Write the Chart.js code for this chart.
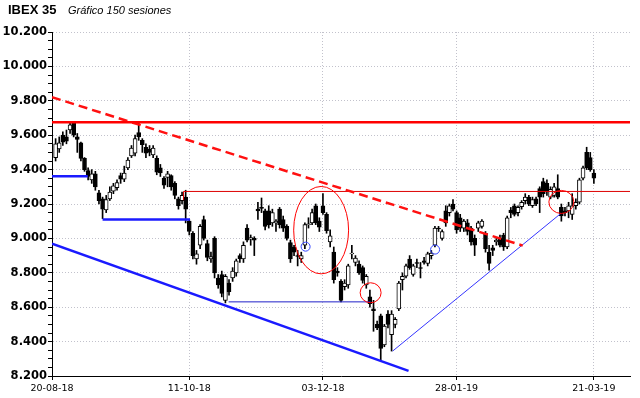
<!DOCTYPE html>
<html>
<head>
<meta charset="utf-8">
<script src="https://cdn.jsdelivr.net/npm/chart.js@4.4.1/dist/chart.umd.min.js"></script>
<style>
  html, body { margin: 0; padding: 0; background: #fff; }
  #wrap { position: relative; width: 640px; height: 398px; }
  #title { position: absolute; left: 8px; top: 2px; font: bold 13px "Liberation Sans", Arial, sans-serif; color: #000; }
  #subtitle { position: absolute; left: 68px; top: 4px; font: italic 11px "Liberation Sans", Arial, sans-serif; color: #000; }
</style>
</head>
<body>
<div id="wrap">
  <canvas id="chart" width="640" height="398"></canvas>
  <div id="title">IBEX 35</div>
  <div id="subtitle">Gráfico 150 sesiones</div>
</div>
<script>
// date ticks (session number -> label)
const dateLabels = ['20-08-18', '11-10-18', '03-12-18', '28-01-19', '21-03-19'];
const datePos = [0, 38, 75, 112, 150];

// daily candles, sessions 1..150
const opens = [
  9470, 9520, 9600, 9590, 9630, 9670, 9590, 9555, 9465, 9395,
  9340, 9375, 9265, 9230, 9165, 9230, 9275, 9295, 9365, 9345,
  9410, 9480, 9495, 9615, 9570, 9530, 9520, 9485, 9465, 9410,
  9350, 9355, 9365, 9320, 9230, 9220, 9240, 9100, 9030, 8880,
  8960, 9110, 8970, 8880, 9000, 8770, 8790, 8640, 8740, 8770,
  8800, 8900, 8880, 9060, 8995, 9000, 9170, 9180, 9160, 9160,
  9090, 9090, 9170, 9110, 9070, 8975, 8950, 8900, 8880, 8960,
  9080, 9090, 9190, 9100, 9190, 9140, 8980, 8920, 8810, 8750,
  8720, 8730, 8910, 8860, 8850, 8830, 8730, 8660, 8590, 8500,
  8550, 8380, 8560, 8440, 8500, 8590, 8760, 8780, 8880, 8790,
  8860, 8830, 8870, 8855, 8900, 8960, 9060, 9000, 9160, 9150,
  9200, 9150, 9120, 9060, 9090, 9060, 9000, 9060, 9070, 9030,
  8920, 8945, 8980, 9000, 9020, 8950, 9165, 9190, 9150, 9185,
  9220, 9240, 9190, 9230, 9290, 9330, 9320, 9240, 9250, 9290,
  9180, 9160, 9160, 9140, 9190, 9210, 9350, 9500, 9470, 9380
];
const highs = [
  9580, 9590, 9620, 9630, 9675, 9680, 9610, 9560, 9470, 9410,
  9400, 9390, 9280, 9240, 9250, 9300, 9320, 9340, 9380, 9420,
  9470, 9540, 9600, 9680, 9580, 9550, 9540, 9540, 9480, 9430,
  9360, 9390, 9370, 9330, 9240, 9270, 9280, 9110, 9040, 8930,
  9080, 9130, 8990, 8920, 9010, 8790, 8810, 8790, 8760, 8830,
  8880, 8910, 8980, 9080, 9020, 9010, 9210, 9235, 9170, 9190,
  9170, 9110, 9180, 9130, 9080, 8990, 8960, 8930, 8920, 9090,
  9120, 9170, 9200, 9120, 9260, 9150, 9050, 8950, 8830, 8760,
  8760, 8850, 8960, 8900, 8870, 8840, 8790, 8700, 8640, 8520,
  8560, 8500, 8580, 8580, 8540, 8750, 8800, 8850, 8900, 8850,
  8880, 8860, 8890, 8920, 8930, 9070, 9070, 9050, 9190, 9200,
  9225, 9160, 9140, 9110, 9110, 9070, 9020, 9100, 9110, 9040,
  8960, 8960, 9000, 9020, 9030, 9130, 9180, 9200, 9190, 9220,
  9260, 9250, 9240, 9240, 9300, 9350, 9340, 9300, 9320, 9370,
  9200, 9180, 9210, 9260, 9230, 9350, 9420, 9530, 9500, 9400
];
const lows = [
  9450, 9500, 9540, 9550, 9610, 9590, 9500, 9450, 9390, 9340,
  9320, 9280, 9200, 9115, 9150, 9220, 9260, 9280, 9320, 9330,
  9400, 9470, 9480, 9570, 9500, 9470, 9480, 9470, 9370, 9360,
  9290, 9300, 9280, 9230, 9170, 9200, 9090, 9020, 8880, 8850,
  8940, 8990, 8870, 8860, 8770, 8710, 8660, 8625, 8670, 8750,
  8780, 8860, 8860, 8980, 8960, 8900, 9110, 9150, 9050, 9060,
  9070, 9040, 9060, 9040, 8990, 8860, 8900, 8840, 8860, 8940,
  9060, 9080, 9080, 9040, 9140, 9030, 8950, 8740, 8780, 8630,
  8700, 8710, 8880, 8840, 8790, 8740, 8710, 8600, 8460, 8470,
  8290, 8370, 8480, 8345, 8480, 8580, 8700, 8770, 8820, 8780,
  8830, 8770, 8850, 8840, 8880, 8950, 9040, 8990, 9070, 9130,
  9160, 9030, 9040, 9040, 9020, 8960, 8900, 9040, 9060, 8920,
  8815, 8900, 8960, 8950, 8930, 8940, 9120, 9130, 9130, 9170,
  9200, 9190, 9180, 9190, 9150, 9240, 9250, 9230, 9240, 9230,
  9100, 9130, 9120, 9110, 9170, 9200, 9340, 9400, 9390, 9320
];
const closes = [
  9550, 9555, 9560, 9565, 9660, 9600, 9575, 9465, 9400, 9360,
  9375, 9300, 9220, 9170, 9225, 9270, 9305, 9325, 9345, 9380,
  9455, 9525, 9580, 9590, 9545, 9495, 9500, 9525, 9385, 9380,
  9310, 9375, 9300, 9250, 9190, 9250, 9170, 9040, 8900, 8910,
  9070, 9000, 8890, 8895, 8800, 8730, 8680, 8780, 8690, 8810,
  8870, 8880, 8960, 8990, 9005, 8990, 9160, 9175, 9070, 9080,
  9150, 9100, 9080, 9060, 9000, 8880, 8920, 8895, 8900, 9080,
  9085, 9150, 9090, 9065, 9150, 9045, 9015, 8760, 8800, 8640,
  8740, 8840, 8915, 8885, 8800, 8755, 8780, 8620, 8580, 8480,
  8360, 8490, 8500, 8560, 8530, 8740, 8780, 8840, 8830, 8840,
  8855, 8825, 8860, 8910, 8915, 9060, 9055, 9040, 9090, 9190,
  9170, 9050, 9060, 9100, 9040, 8980, 8960, 9090, 9100, 8940,
  8855, 8930, 8990, 8960, 8950, 9120, 9150, 9140, 9180, 9210,
  9240, 9200, 9225, 9200, 9240, 9260, 9270, 9285, 9300, 9240,
  9130, 9150, 9190, 9190, 9210, 9340, 9410, 9410, 9400, 9350
];

// drawn studies, [session, price] pairs
const topLine = [[0, 9675], [160, 9675]];
const downTrend = [[0, 9821], [130.3, 8958]];
const upperBox = [[36.4, 9222], [36.4, 9273], [160, 9273]];
const lowerBox = [[48.9, 8631], [88.2, 8631]];
const blueStep1 = [[0, 9362], [9.9, 9362]];
const blueStep2 = [[14, 9110], [38.2, 9110]];
const lowTrend = [[0, 8970], [98.7, 8230]];
const riseTrend = [[94.3, 8345], [140.8, 9144]];
const markers = [[70.2, 8952], [106.05, 8935]];
// [session, price, half width (sessions), half height (points)]
const ellipses = [[74.5, 9048, 7.6, 254], [88.2, 8684, 2.9, 58], [141, 9212, 3.46, 67]];

const gridColor = '#c2c2cc';

function toXY(pts) {
    return pts.map(p => ({ x: p[0], y: p[1] }));
}

function lineSet(pts, color, width, dash) {
    return {
        type: 'line',
        data: toXY(pts),
        borderColor: color,
        borderWidth: width,
        borderDash: dash || [],
        pointRadius: 0,
        fill: false,
        tension: 0
    };
}

function fmtPrice(v) {
    const n = Math.round(v);
    return Math.floor(n / 1000) + '.' + String(n % 1000).padStart(3, '0');
}

const wicks = opens.map((o, k) => ({ x: k + 1, y: [lows[k], highs[k]] }));
const bodies = opens.map((o, k) => ({ x: k + 1, y: [o, closes[k]] }));
const bodyFill = opens.map((o, k) => closes[k] >= o ? '#ffffff' : '#000000');

// red ellipses drawn through the chart scales
const ellipsePlugin = {
    id: 'ellipses',
    afterDatasetsDraw(chart) {
        const ctx = chart.ctx;
        const xs = chart.scales.x;
        const ys = chart.scales.y;
        ctx.save();
        ctx.strokeStyle = '#ff0000';
        ctx.lineWidth = 1;
        ellipses.forEach(e => {
            const cx = xs.getPixelForValue(e[0]);
            const cy = ys.getPixelForValue(e[1]);
            const rx = Math.abs(xs.getPixelForValue(e[0] + e[2]) - cx);
            const ry = Math.abs(ys.getPixelForValue(e[1] + e[3]) - cy);
            ctx.beginPath();
            ctx.ellipse(cx, cy, rx, ry, 0, 0, Math.PI * 2);
            ctx.stroke();
        });
        ctx.restore();
    }
};

const ctx = document.getElementById('chart').getContext('2d');

new Chart(ctx, {
    type: 'bar',
    data: {
        datasets: [
            lineSet(topLine, '#ff0000', 2.5),
            lineSet(downTrend, '#ff1010', 2.5, [9, 5]),
            lineSet(upperBox, '#dd0000', 1),
            lineSet(lowerBox, '#2020c8', 1),
            lineSet(blueStep1, '#1a1aff', 2.5),
            lineSet(blueStep2, '#1a1aff', 2.5),
            lineSet(lowTrend, '#1a1aff', 2.5),
            lineSet(riseTrend, '#3535ff', 1),
            {
                type: 'line',
                data: toXY(markers),
                showLine: false,
                pointRadius: 4.5,
                pointBorderColor: '#3344ff',
                pointBackgroundColor: 'rgba(255,255,255,0)',
                pointBorderWidth: 1
            },
            {
                type: 'bar',
                data: bodies,
                backgroundColor: bodyFill,
                borderColor: '#000000',
                borderWidth: 1,
                borderSkipped: false,
                barThickness: 4,
                grouped: false
            },
            {
                type: 'bar',
                data: wicks,
                backgroundColor: '#000000',
                borderWidth: 0,
                barThickness: 1,
                grouped: false
            }
        ]
    },
    options: {
        responsive: false,
        devicePixelRatio: 1,
        animation: false,
        layout: { padding: { top: 32, right: 10, left: 0, bottom: 0 } },
        plugins: { legend: { display: false }, tooltip: { enabled: false } },
        scales: {
            x: {
                type: 'linear',
                min: 0,
                max: 160,
                offset: false,
                afterBuildTicks: s => { s.ticks = datePos.map(v => ({ value: v })); },
                afterFit: s => { s.height = 22; },
                ticks: {
                    autoSkip: false,
                    maxRotation: 0,
                    padding: 3,
                    color: '#000',
                    font: { family: 'DejaVu Sans', size: 9.5 },
                    callback: (v, i) => dateLabels[i]
                },
                grid: {
                    offset: false,
                    color: c => (c.tick && c.tick.value === 0) ? 'rgba(0,0,0,0)' : gridColor,
                    tickColor: '#000',
                    tickLength: 4
                },
                border: { color: '#000', width: 1, dash: [1, 2] }
            },
            y: {
                min: 8200,
                max: 10200,
                afterFit: s => { s.width = 52; },
                ticks: {
                    stepSize: 50,
                    autoSkip: false,
                    padding: 1,
                    color: '#000',
                    font: { family: 'DejaVu Sans', size: 11.5, weight: 'bold' },
                    callback: v => (Math.round(v) % 200 === 0) ? fmtPrice(v) : ''
                },
                grid: {
                    color: c => (c.tick && Math.round(c.tick.value) % 200 === 0 && c.tick.value > 8200) ? gridColor : 'rgba(0,0,0,0)',
                    tickColor: '#000',
                    tickLength: 4
                },
                border: { color: '#000', width: 1, dash: [1, 2] }
            }
        }
    },
    plugins: [ellipsePlugin]
});
</script>
</body>
</html>
